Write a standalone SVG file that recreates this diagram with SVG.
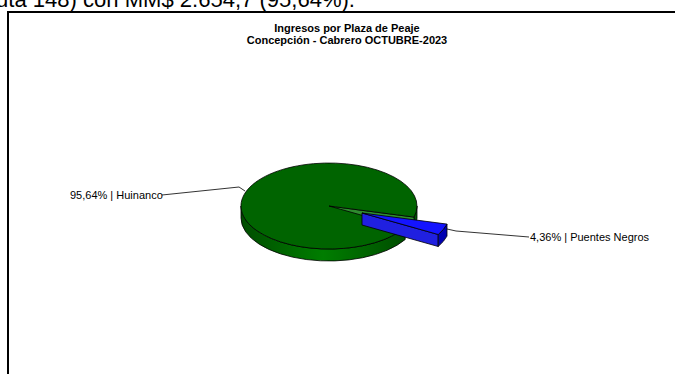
<svg xmlns="http://www.w3.org/2000/svg" width="675" height="374" viewBox="0 0 675 374">
<style>
.t{font-family:"Liberation Sans",Arial,sans-serif;fill:#000}
.ttl{font-size:11px;font-weight:bold;text-anchor:middle}
.lbl{font-size:11px}
.lead{fill:none;stroke:#333;stroke-width:1}
.edge{stroke:#000;stroke-width:0.8;stroke-linejoin:round}
</style>
<defs>
<linearGradient id="gside" x1="0" x2="1" y1="0" y2="0">
<stop offset="0" stop-color="#004d00"/>
<stop offset="0.5" stop-color="#007d00"/>
<stop offset="1" stop-color="#004d00"/>
</linearGradient>
</defs>
<rect width="675" height="374" fill="#fff"/>
<text class="t" x="-4" y="7" font-size="22" textLength="359" lengthAdjust="spacingAndGlyphs">uta 148) con MM$ 2.654,7 (95,64%).</text>
<rect x="8" y="12" width="700" height="400" fill="#fff" stroke="#000" stroke-width="2"/>
<g id="title">
<text class="t ttl" x="347" y="32">Ingresos por Plaza de Peaje</text>
<text class="t ttl" x="347" y="44">Concepción - Cabrero OCTUBRE-2023</text>
</g>
<g id="connectors">
<polyline class="lead" points="162,195 239,187 245,191"/>
<polyline class="lead" points="447,229 456,231 529,237"/>
</g>
<g id="huinanco">
<path class="edge" fill="url(#gside)" d="M405.2,227.5 A88,43 0 0 1 241,206 L241,218 A88,43 0 0 0 405.2,239.5 Z"/>
<path class="edge" fill="#005a00" d="M417,206 A88,43 0 0 1 414,217.1 L414,229.1 A88,43 0 0 0 417,218 Z"/>
<path class="edge" fill="#2e8b2e" d="M329,206 L414,217.1 L414,229.1 L329,218 Z"/>
<path class="edge" fill="#006400" d="M329,206 L414,217.1 A88,43 0 1 0 405.2,227.5 Z"/>
</g>
<g id="puentes-negros">
<path class="edge" fill="#2020e0" d="M362,213 L438.2,234.5 L438.2,246.5 L362,225 Z"/>
<path class="edge" fill="#0000b0" d="M447,224.1 A88,43 0 0 1 438.2,234.5 L438.2,246.5 A88,43 0 0 0 447,236.1 Z"/>
<path class="edge" fill="#1414ff" d="M362,213 L447,224.1 A88,43 0 0 1 438.2,234.5 Z"/>
</g>
<g id="labels">
<text class="t lbl" x="70" y="199">95,64% | Huinanco</text>
<text class="t lbl" x="530" y="241">4,36% | Puentes Negros</text>
</g>
</svg>
